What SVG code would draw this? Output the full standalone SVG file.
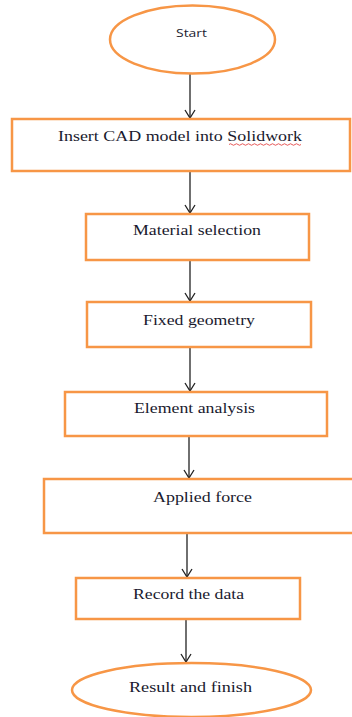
<svg xmlns="http://www.w3.org/2000/svg" width="352" height="717" viewBox="0 0 352 717">
<defs>
<style>
.shape{fill:#fff;stroke:#F79646;stroke-width:2.5}
.lbl{font-family:"Liberation Serif","Times New Roman",serif;font-size:15px;fill:#1a1a2e;text-anchor:start}
.sans{font-family:"Open Sans","Liberation Sans",sans-serif;font-size:10.5px;fill:#1a1a2e}
.conn{stroke:#222;stroke-width:1.3;fill:none}
</style>
<marker id="arr" markerWidth="12" markerHeight="12" viewBox="0 0 12 12" refX="10" refY="6" orient="auto" markerUnits="userSpaceOnUse">
<path d="M2,1 L10,6 L2,11" fill="none" stroke="#222" stroke-width="1.3"/>
</marker>
</defs>
<rect width="352" height="717" fill="#fff"/>
<g id="connectors">
<line class="conn" x1="190" y1="74" x2="190" y2="118" marker-end="url(#arr)"/>
<line class="conn" x1="190" y1="172" x2="190" y2="213" marker-end="url(#arr)"/>
<line class="conn" x1="190" y1="261" x2="190" y2="301" marker-end="url(#arr)"/>
<line class="conn" x1="190" y1="348" x2="190" y2="391" marker-end="url(#arr)"/>
<line class="conn" x1="189" y1="437" x2="189" y2="478" marker-end="url(#arr)"/>
<line class="conn" x1="187" y1="534" x2="187" y2="577" marker-end="url(#arr)"/>
<line class="conn" x1="186" y1="620" x2="186" y2="662" marker-end="url(#arr)"/>
</g>
<g id="start">
<ellipse class="shape" cx="192.5" cy="39.5" rx="82.5" ry="34"/>
<text class="sans" x="176" y="37" textLength="31" lengthAdjust="spacingAndGlyphs">Start</text>
</g>
<g id="insert">
<rect class="shape" x="12" y="119" width="338" height="52"/>
<text class="lbl" x="58" y="141" textLength="244" lengthAdjust="spacingAndGlyphs">Insert CAD model into Solidwork</text>
<path d="M229,144.5 q1.5,-1.5 3,0 t3,0 t3,0 t3,0 t3,0 t3,0 t3,0 t3,0 t3,0 t3,0 t3,0 t3,0 t3,0 t3,0 t3,0 t3,0 t3,0 t3,0 t3,0 t3,0 t3,0 t3,0 t3,0 t3,0" fill="none" stroke="#e03030" stroke-width="0.8"/>
</g>
<g id="material">
<rect class="shape" x="86" y="214" width="223" height="46"/>
<text class="lbl" x="133" y="235" textLength="128" lengthAdjust="spacingAndGlyphs">Material selection</text>
</g>
<g id="fixed">
<rect class="shape" x="87" y="302" width="224" height="45"/>
<text class="lbl" x="143" y="325" textLength="112" lengthAdjust="spacingAndGlyphs">Fixed geometry</text>
</g>
<g id="element">
<rect class="shape" x="65" y="392" width="262" height="44"/>
<text class="lbl" x="134" y="413" textLength="121" lengthAdjust="spacingAndGlyphs">Element analysis</text>
</g>
<g id="applied">
<rect class="shape" x="44" y="479" width="312" height="54"/>
<text class="lbl" x="153" y="502" textLength="99" lengthAdjust="spacingAndGlyphs">Applied force</text>
</g>
<g id="record">
<rect class="shape" x="76" y="578" width="224" height="41"/>
<text class="lbl" x="133" y="599" textLength="111" lengthAdjust="spacingAndGlyphs">Record the data</text>
</g>
<g id="finish">
<ellipse class="shape" cx="191.5" cy="690" rx="119.5" ry="27"/>
<text class="lbl" x="129" y="692" textLength="123" lengthAdjust="spacingAndGlyphs">Result and finish</text>
</g>
</svg>
